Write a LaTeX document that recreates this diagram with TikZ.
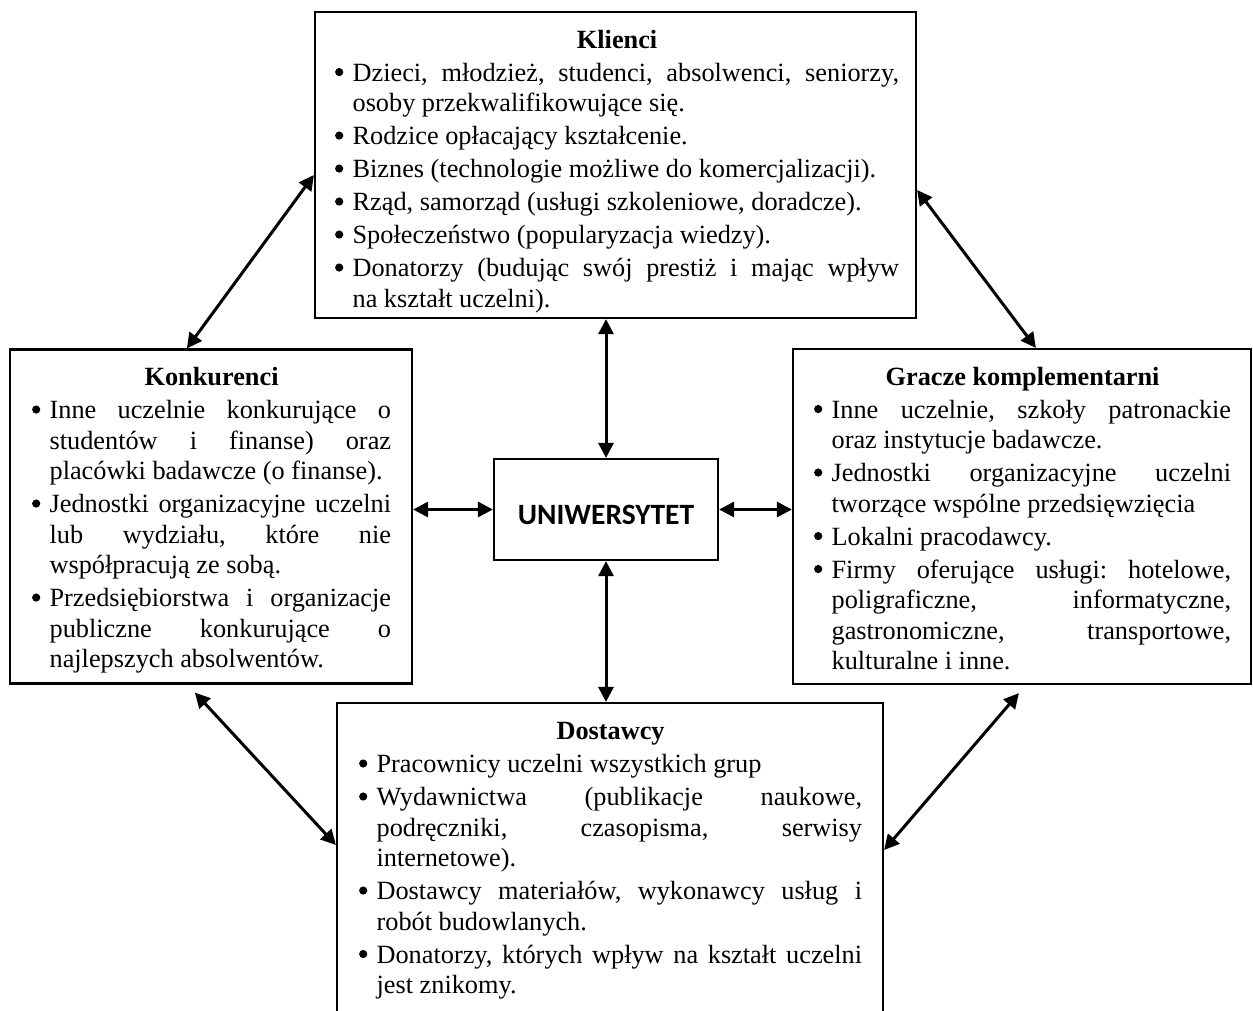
\documentclass[tikz,border=0pt]{standalone}
\usepackage{fontspec}
\setmainfont{Liberation Serif}
\newfontfamily\calfont{Carlito}
\usetikzlibrary{arrows.meta}
\newlength\bind
\setlength\bind{17.5pt}
\newcommand\bdot{\tikz[x=1pt,y=1pt,baseline=0pt]\fill (4.5,9.3) circle (4.1);}
\newcommand\bitem{\par\noindent\hangindent=\bind\hangafter=1\makebox[\bind][l]{\bdot}}
\newcommand\btitle[1]{{\centering\bfseries #1\par}}
\newcommand\boxsetup{\fontsize{26.3pt}{30.5pt}\selectfont\setlength\parskip{2.5pt}\setlength\parindent{0pt}\hyphenpenalty=10000 \exhyphenpenalty=10000 \tolerance=10000 \hbadness=10000 \hfuzz=20pt }
\tikzset{
  frame/.style={draw, line width=2.2pt, inner sep=0pt},
  txt/.style={anchor=north west, inner sep=0pt, text width=#1, align=justify},
  link/.style={line width=3pt, {Triangle[length=15pt,width=15pt]}-{Triangle[length=15pt,width=15pt]}}
}
\begin{document}
\begin{tikzpicture}[x=1pt,y=-1pt]
\useasboundingbox (0,0) rectangle (1253,1010);
% boxes
\node[frame, minimum width=601pt, minimum height=306pt] (K) at (615.5,165) {};
\node[frame, minimum width=402pt, minimum height=334pt] (Ko) at (211,516.5) {};
\node[frame, minimum width=458pt, minimum height=335pt] (G) at (1022,516.5) {};
\node[frame, minimum width=546pt, minimum height=318pt] (D) at (610,862) {};
\node[frame, minimum width=224pt, minimum height=101pt] (U) at (606,509.5) {};
\node[inner sep=0pt] (Ut) at ([yshift=-5pt]U.center) {\calfont\bfseries\fontsize{29.5pt}{31pt}\selectfont UNIWERSYTET};
% texts
\node[txt=564pt] (Kt) at ([xshift=21pt,yshift=-19pt]K.north west) {\boxsetup
\btitle{Klienci}
\bitem Dzieci,~młodzież,~studenci,~absolwenci,~seniorzy, \linebreak osoby~przekwalifikowujące~się.
\bitem Rodzice~opłacający~kształcenie.
\bitem Biznes~(technologie~możliwe~do~komercjalizacji).
\bitem Rząd,~samorząd~(usługi~szkoleniowe,~doradcze).
\bitem Społeczeństwo~(popularyzacja~wiedzy).
\bitem Donatorzy~(budując~swój~prestiż~i~mając~wpływ \linebreak na~kształt~uczelni).\par};
\node[txt=359pt] (Kot) at ([xshift=23pt,yshift=-19pt]Ko.north west) {\boxsetup
\btitle{Konkurenci}
\bitem Inne~uczelnie~konkurujące~o \linebreak studentów~i~finanse)~oraz \linebreak placówki~badawcze~(o~finanse).
\bitem Jednostki~organizacyjne~uczelni \linebreak lub~wydziału,~które~nie \linebreak współpracują~ze~sobą.
\bitem Przedsiębiorstwa~i~organizacje \linebreak publiczne~konkurujące~o \linebreak najlepszych~absolwentów.\par};
\node[txt=417pt] (Gt) at ([xshift=22pt,yshift=-19pt]G.north west) {\boxsetup
\btitle{Gracze komplementarni}
\bitem Inne~uczelnie,~szkoły~patronackie \linebreak oraz~instytucje~badawcze.
\bitem Jednostki~organizacyjne~uczelni \linebreak tworzące~wspólne~przedsięwzięcia
\bitem Lokalni~pracodawcy.
\bitem Firmy~oferujące~usługi:~hotelowe, \linebreak poligraficzne,~informatyczne, \linebreak gastronomiczne,~transportowe, \linebreak kulturalne~i~inne.\par};
\node[txt=503pt] (Dt) at ([xshift=23pt,yshift=-20.5pt]D.north west) {\boxsetup
\btitle{Dostawcy}
\bitem Pracownicy~uczelni~wszystkich~grup
\bitem Wydawnictwa~(publikacje~naukowe, \linebreak podręczniki,~czasopisma,~serwisy \linebreak internetowe).
\bitem Dostawcy~materiałów,~wykonawcy~usług~i \linebreak robót~budowlanych.
\bitem Donatorzy,~których~wpływ~na~kształt~uczelni \linebreak jest~znikomy.\par};
% connectors
\draw[link] (U.north |- K.south) -- (U.north);
\draw[link] (U.south) -- (U.south |- D.north);
\draw[link] (Ko.east |- U.west) -- (U.west);
\draw[link] (U.east) -- (U.east -| G.west);
\draw[link] ([xshift=178pt]Ko.north west) -- ([yshift=-10pt]K.west);
\draw[link] ([yshift=-25pt]K.east) -- ([xshift=244pt]G.north west);
\draw[link] ([xshift=186pt,yshift=-8pt]Ko.south west) -- ([yshift=17pt]D.west);
\draw[link] ([xshift=227pt,yshift=-8pt]G.south west) -- ([yshift=12pt]D.east);
\end{tikzpicture}
\end{document}
